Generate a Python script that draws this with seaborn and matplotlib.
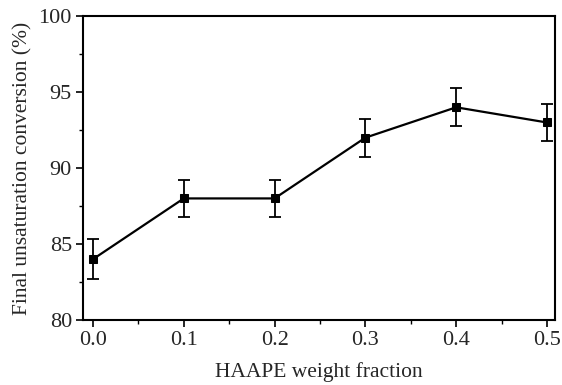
import matplotlib
matplotlib.use("Agg")
import matplotlib.pyplot as plt
import seaborn as sns
import pandas as pd
from matplotlib.ticker import MultipleLocator

# data
fraction = [0.0, 0.1, 0.2, 0.3, 0.4, 0.5]
conversion = [84.0, 88.0, 88.0, 92.0, 94.0, 93.0]
err = [1.3, 1.2, 1.2, 1.25, 1.25, 1.25]

df = pd.DataFrame({"fraction": fraction, "conversion": conversion, "err": err})

sns.set_style("ticks")
plt.rcParams['font.family'] = ['Liberation Serif', 'DejaVu Serif']

fig = plt.figure(figsize=(5.62, 3.85), dpi=100)
ax = fig.add_axes([0.1477, 0.169, 0.84, 0.789])

sns.lineplot(data=df, x="fraction", y="conversion", marker="s", color="black",
             linewidth=1.6, markersize=6, markeredgecolor="black", ax=ax)
ax.errorbar(df["fraction"], df["conversion"], yerr=df["err"], fmt="none",
            ecolor="black", elinewidth=1.3, capsize=4, capthick=1.3)

ax.set_xlim(-0.011, 0.509)
ax.set_ylim(80, 100)
ax.xaxis.set_major_locator(MultipleLocator(0.1))
ax.xaxis.set_minor_locator(MultipleLocator(0.05))
ax.yaxis.set_major_locator(MultipleLocator(5))
ax.yaxis.set_minor_locator(MultipleLocator(2.5))
ax.set_xticklabels([f"{v:.1f}" for v in ax.get_xticks()])
ax.tick_params(which="major", direction="out", length=5, width=1.2, labelsize=16,
               color="black", pad=3)
ax.tick_params(which="minor", direction="out", length=3, width=1, color="black")
for s in ax.spines.values():
    s.set_linewidth(1.5)
    s.set_color("black")

ax.set_xlabel("HAAPE weight fraction", fontsize=15.5, labelpad=9)
ax.set_ylabel("Final unsaturation conversion (%)", fontsize=15.5, labelpad=4)

fig.savefig("out.png", dpi=100)
